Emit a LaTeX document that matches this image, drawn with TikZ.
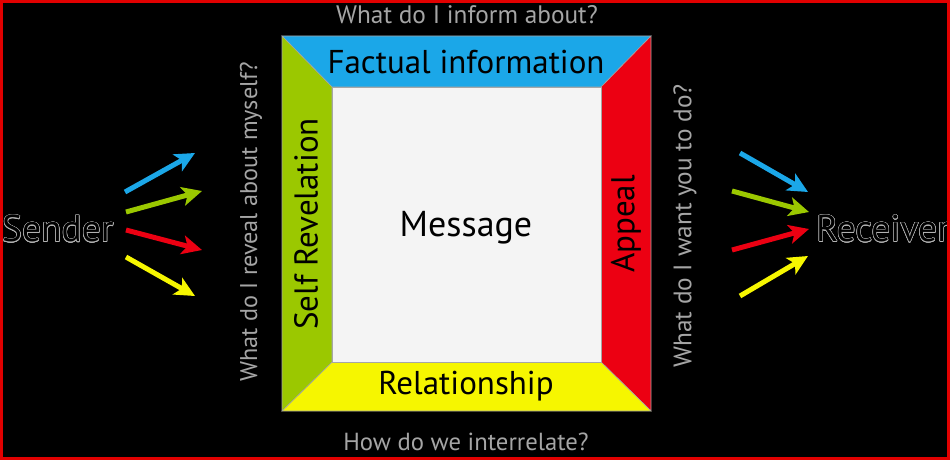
\documentclass[tikz,border=0pt]{standalone}
\usepackage{fontspec}
\setmainfont{PT Sans}
\usepackage{contour}
\contourlength{0.5pt}
\contournumber{16}
\usetikzlibrary{arrows.meta}
\definecolor{cblue}{RGB}{27,167,232}
\definecolor{cgreen}{RGB}{155,200,0}
\definecolor{cred}{RGB}{236,0,18}
\definecolor{cyellow}{RGB}{246,246,0}
\definecolor{cmsg}{RGB}{244,244,244}
\definecolor{cquest}{RGB}{165,165,165}
\definecolor{cframe}{RGB}{225,0,0}
\tikzset{
  side/.style={draw=gray!70, line width=0.6pt, line join=miter},
  sidetext/.style={text=black, font=\fontsize{33}{36}\selectfont, inner sep=0pt},
  quest/.style={text=cquest, font=\fontsize{25.3}{30}\selectfont, inner sep=0pt},
  party/.style={text=black, font=\fontsize{37.5}{42}\selectfont, inner sep=0pt},
  flow/.style={line width=5pt, -{Stealth[length=20pt,width=19pt,inset=5pt]}},
}
\begin{document}
\begin{tikzpicture}[x=1pt,y=-1pt]
\fill[black] (0,0) rectangle (950,460);
\useasboundingbox (0,0) rectangle (950,460);

\coordinate (O1) at (282,36);
\coordinate (O2) at (651,36);
\coordinate (O3) at (651,411);
\coordinate (O4) at (282,411);
\coordinate (I1) at (332,87);
\coordinate (I2) at (601,87);
\coordinate (I3) at (601,362);
\coordinate (I4) at (332,362);

\filldraw[side, fill=cblue] (O1) -- (O2) -- (I2) -- (I1) -- cycle;
\filldraw[side, fill=cred] (O2) -- (O3) -- (I3) -- (I2) -- cycle;
\filldraw[side, fill=cyellow] (O3) -- (O4) -- (I4) -- (I3) -- cycle;
\filldraw[side, fill=cgreen] (O4) -- (O1) -- (I1) -- (I4) -- cycle;
\filldraw[side, fill=cmsg] (I1) rectangle (I3);

\node[sidetext] (fact) at (466,62) {Factual information};
\node[sidetext] (rel) at (466,386) {Relationship};
\node[sidetext, rotate=90] (self) at (306,224) {Self Revelation};
\node[sidetext, rotate=90] (app) at (626,224) {Appeal};
\node[sidetext, font=\fontsize{36}{40}\selectfont] (msg) at (466,228) {Message};

\node[quest] (q1) at (467,15) {What do I inform about?};
\node[quest, font=\fontsize{24.7}{30}\selectfont] (q2) at (466,442) {How do we interrelate?};
\node[quest, rotate=90, font=\fontsize{24.2}{30}\selectfont] (q3) at (251,222) {What do I reveal about myself?};
\node[quest, rotate=90] (q4) at (685,226) {What do I want you to do?};

\node[party, anchor=west] (snd) at (2,229) {\contour{gray!60}{Sender}};
\node[party, anchor=west] (rcv) at (816,229) {\contour{gray!60}{Receiver}};

\coordinate (sb) at (125,192); \coordinate (tb) at (195,153);
\coordinate (sg) at (126,212); \coordinate (tg) at (202,191);
\coordinate (sr) at (126,230); \coordinate (tr) at (202,250);
\coordinate (sy) at (126,257); \coordinate (ty) at (195,296);
\draw[flow, cblue] (sb) -- (tb);
\draw[flow, cgreen] (sg) -- (tg);
\draw[flow, cred] (sr) -- (tr);
\draw[flow, cyellow] (sy) -- (ty);

\coordinate (rb) at (740,153); \coordinate (ub) at (808,192);
\coordinate (rg) at (732,191); \coordinate (ug) at (809,212);
\coordinate (rr) at (732,250); \coordinate (ur) at (809,229);
\coordinate (ry) at (740,296); \coordinate (uy) at (808,256);
\draw[flow, cblue] (rb) -- (ub);
\draw[flow, cgreen] (rg) -- (ug);
\draw[flow, cred] (rr) -- (ur);
\draw[flow, cyellow] (ry) -- (uy);

\draw[cframe, line width=3pt] (1.5,1.5) rectangle (948.5,458.5);
\end{tikzpicture}
\end{document}
